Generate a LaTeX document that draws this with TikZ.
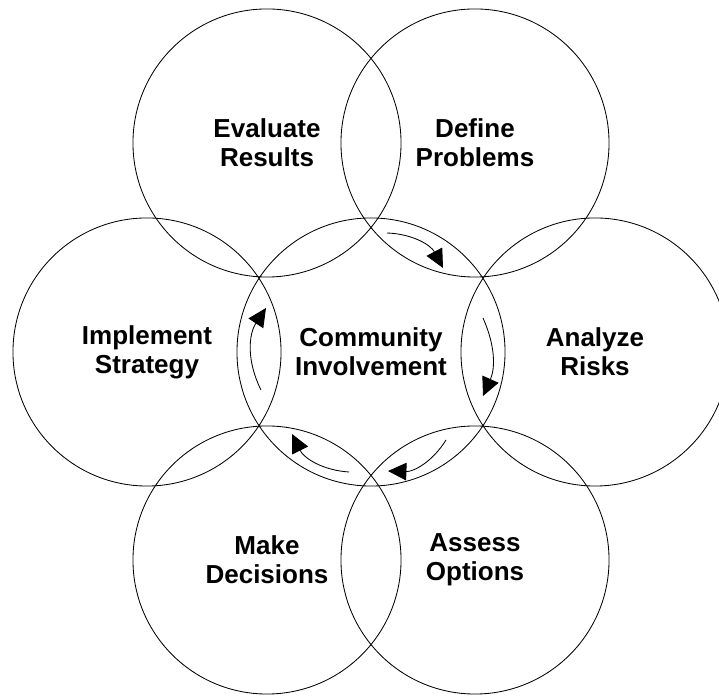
\documentclass[tikz,border=0pt]{standalone}
\usepackage{fontspec}
\setmainfont{Liberation Sans}
\usetikzlibrary{arrows.meta}
\tikzset{
        x=0.025cm, y=0.025cm,
        ring/.style={circle, draw=black, line width=0.6pt, minimum size=6.7cm, inner sep=0pt,
          align=center, font=\fontsize{18.5pt}{20.6pt}\selectfont\bfseries},
        lens arrow/.style={line width=0.6pt, -{Triangle[length=0.46cm, width=0.44cm]}, bend left=30},
        flat arrow/.style={lens arrow, bend left=24}
          }
\begin{document}
\begin{tikzpicture}
            \useasboundingbox (0,0) rectangle (719,696);
            \node[ring] (CI) at (371,344) {Community\\Involvement};
            \node[ring] (ER) at (267,553) {Evaluate\\Results};
            \node[ring] (DP) at (475,553) {Define\\Problems};
            \node[ring] (IS) at (147,344) {Implement\\Strategy};
            \node[ring] (AR) at (595,344) {Analyze\\Risks};
            \node[ring] (MD) at (267,136) {Make\\Decisions};
            \node[ring] (AO) at (475,136) {Assess\\Options};
            % arrows in the lenses round the centre
            \coordinate (dp from) at (387,463);
            \coordinate (dp to) at (443,428);
            \coordinate (ar from) at (483,378);
            \coordinate (ar to) at (483,300);
            \coordinate (ao from) at (446,256);
            \coordinate (ao to) at (388,225);
            \coordinate (md from) at (349,224);
            \coordinate (md to) at (292,262);
            \coordinate (is from) at (261,306);
            \coordinate (is to) at (266,388);
            \draw[lens arrow] (dp from) to (dp to);
            \draw[flat arrow] (ar from) to (ar to);
            \draw[lens arrow] (ao from) to (ao to);
            \draw[lens arrow] (md from) to (md to);
            \draw[lens arrow] (is from) to (is to);
          \end{tikzpicture}
\end{document}
